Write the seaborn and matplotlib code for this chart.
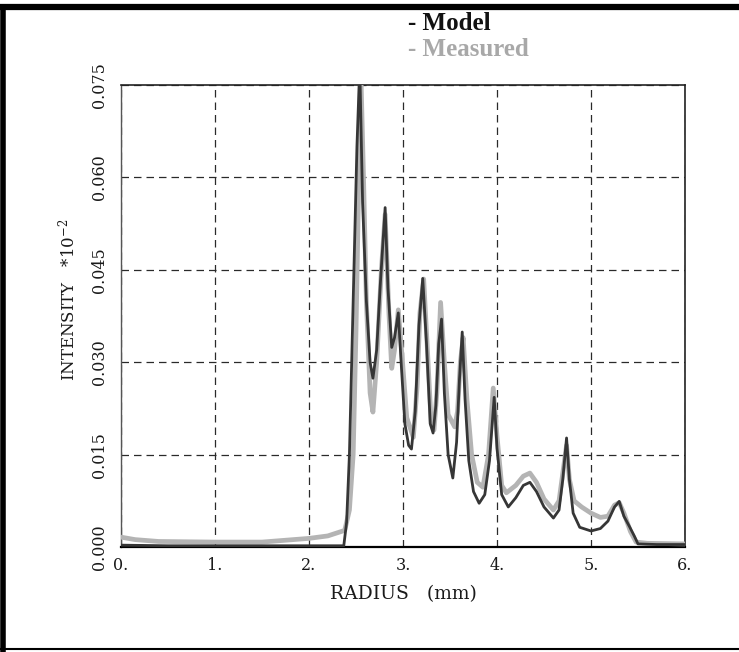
import matplotlib
matplotlib.use("Agg")
import matplotlib.pyplot as plt
from matplotlib.lines import Line2D
import numpy as np
import pandas as pd
import seaborn as sns

# Radial intensity profiles (intensity in units of 1e-2)
model_radius = [0.00, 0.50, 1.00, 1.50, 2.00, 2.37, 2.40, 2.43, 2.47, 2.51, 2.54, 2.57,
                2.61, 2.65, 2.68, 2.72, 2.76, 2.81, 2.84, 2.88, 2.91, 2.95, 2.98, 3.02,
                3.06, 3.09, 3.13, 3.17, 3.21, 3.25, 3.29, 3.32, 3.35, 3.38, 3.41, 3.44,
                3.48, 3.53, 3.57, 3.60, 3.63, 3.66, 3.70, 3.75, 3.81, 3.87, 3.92, 3.97,
                4.00, 4.05, 4.12, 4.20, 4.28, 4.35, 4.42, 4.50, 4.60, 4.66, 4.70, 4.74,
                4.77, 4.81, 4.88, 5.00, 5.10, 5.18, 5.25, 5.30, 5.35, 5.41, 5.46, 5.50,
                5.70, 6.00]
model_intensity = [0.0003, 0.0002, 0.0002, 0.0002, 0.0002, 0.0002, 0.0040, 0.0150, 0.0400,
                   0.0650, 0.0780, 0.0560, 0.0400, 0.0300, 0.0274, 0.0320, 0.0430, 0.0551,
                   0.0420, 0.0324, 0.0340, 0.0380, 0.0300, 0.0200, 0.0165, 0.0159, 0.0220,
                   0.0360, 0.0436, 0.0330, 0.0200, 0.0185, 0.0230, 0.0330, 0.0370, 0.0250,
                   0.0150, 0.0112, 0.0170, 0.0270, 0.0349, 0.0240, 0.0140, 0.0090, 0.0071,
                   0.0085, 0.0140, 0.0243, 0.0160, 0.0085, 0.0065, 0.0080, 0.0100, 0.0105,
                   0.0090, 0.0065, 0.0047, 0.0060, 0.0110, 0.0177, 0.0110, 0.0055, 0.0032,
                   0.0026, 0.0030, 0.0042, 0.0065, 0.0074, 0.0050, 0.0033, 0.0018, 0.0005,
                   0.0004, 0.0004]

measured_radius = [0.00, 0.15, 0.40, 1.00, 1.50, 2.00, 2.20, 2.38, 2.43, 2.47, 2.50, 2.53,
                   2.55, 2.58, 2.61, 2.65, 2.68, 2.72, 2.77, 2.81, 2.85, 2.88, 2.91, 2.95,
                   2.99, 3.04, 3.11, 3.15, 3.18, 3.22, 3.26, 3.30, 3.33, 3.36, 3.40, 3.44,
                   3.48, 3.55, 3.58, 3.61, 3.64, 3.68, 3.73, 3.79, 3.85, 3.91, 3.96, 4.00,
                   4.05, 4.10, 4.20, 4.28, 4.35, 4.42, 4.50, 4.60, 4.66, 4.70, 4.74, 4.77,
                   4.82, 4.90, 5.00, 5.10, 5.18, 5.25, 5.30, 5.35, 5.42, 5.48, 5.60, 6.00]
measured_intensity = [0.0016, 0.0012, 0.0009, 0.0008, 0.0008, 0.0014, 0.0018, 0.0027, 0.0060,
                      0.0150, 0.0350, 0.0600, 0.0780, 0.0600, 0.0400, 0.0250, 0.0219, 0.0300,
                      0.0450, 0.0540, 0.0380, 0.0290, 0.0320, 0.0385, 0.0310, 0.0210, 0.0178,
                      0.0260, 0.0380, 0.0435, 0.0320, 0.0200, 0.0190, 0.0250, 0.0397, 0.0300,
                      0.0215, 0.0195, 0.0220, 0.0300, 0.0340, 0.0240, 0.0150, 0.0105, 0.0097,
                      0.0150, 0.0258, 0.0180, 0.0100, 0.0088, 0.0100, 0.0115, 0.0120, 0.0105,
                      0.0078, 0.0060, 0.0075, 0.0120, 0.0165, 0.0110, 0.0075, 0.0065, 0.0055,
                      0.0048, 0.0050, 0.0068, 0.0072, 0.0055, 0.0025, 0.0008, 0.0006, 0.0005]

x_ticks = [0, 1, 2, 3, 4, 5, 6]
x_tick_labels = ["0.", "1.", "2.", "3.", "4.", "5.", "6."]
y_ticks = [0.000, 0.015, 0.030, 0.045, 0.060, 0.075]
y_tick_labels = ["0.000", "0.015", "0.030", "0.045", "0.060", "0.075"]

model_df = pd.DataFrame({"radius": model_radius, "intensity": model_intensity})
measured_df = pd.DataFrame({"radius": measured_radius, "intensity": measured_intensity})

sns.set_style("white")
plt.rcParams["font.family"] = ["DejaVu Serif"]
plt.rcParams["mathtext.fontset"] = "dejavuserif"

fig = plt.figure(figsize=(7.39, 6.52), dpi=100)
ax = fig.add_axes([121 / 739, 1 - 547 / 652, 564 / 739, 462 / 652])

sns.lineplot(data=measured_df, x="radius", y="intensity", ax=ax, color="#b4b4b4",
             linewidth=3.4, estimator=None, sort=False, zorder=3)
sns.lineplot(data=model_df, x="radius", y="intensity", ax=ax, color="#363636",
             linewidth=2.0, estimator=None, sort=False, zorder=4)

ax.set_xlim(0, 6)
ax.set_ylim(0, 0.075)
ax.set_xticks(x_ticks)
ax.set_xticklabels(x_tick_labels, fontsize=11.5)
ax.set_yticks(y_ticks)
ax.set_yticklabels(y_tick_labels, fontsize=11.5, rotation=90, va="center")
ax.tick_params(axis="both", direction="inout", length=7, width=1.0, color="black",
               labelcolor="#1a1a1a")
ax.tick_params(axis="x", pad=4)
ax.tick_params(axis="y", pad=6)

ax.grid(True, color="#2a2a2a", linestyle=(0, (6, 4)), linewidth=0.9)
ax.set_axisbelow(True)

for side in ["top", "right"]:
    ax.spines[side].set_color("#222222")
    ax.spines[side].set_linewidth(1.2)
ax.spines["left"].set_color("#555555")
ax.spines["left"].set_linewidth(1.0)
ax.spines["bottom"].set_color("black")
ax.spines["bottom"].set_linewidth(1.6)

ax.set_xlabel("RADIUS   (mm)", fontsize=13.5, color="#1a1a1a", labelpad=8)
ax.set_ylabel("INTENSITY   *10$^{-2}$", fontsize=12, color="#1a1a1a")
ax.yaxis.set_label_coords(-0.076, 0.535)

# Legend text above the plot
fig.text(408 / 739, 1 - 24 / 652, "- Model", fontsize=18, fontweight="bold",
         family=["Liberation Serif"], color="#111111", va="center", ha="left")
fig.text(408 / 739, 1 - 49 / 652, "- Measured", fontsize=18, fontweight="bold",
         family=["Liberation Serif"], color="#a8a8a8", va="center", ha="left")

# Page frame
fig.add_artist(Line2D([0, 1], [1 - 7 / 652, 1 - 7 / 652], transform=fig.transFigure,
                      color="black", linewidth=4.5))
fig.add_artist(Line2D([2.5 / 739, 2.5 / 739], [0, 1 - 7 / 652], transform=fig.transFigure,
                      color="black", linewidth=4))
fig.add_artist(Line2D([0, 1], [1 - 649 / 652, 1 - 649 / 652], transform=fig.transFigure,
                      color="black", linewidth=1.5))

fig.savefig("out.png", dpi=100, facecolor="white")
